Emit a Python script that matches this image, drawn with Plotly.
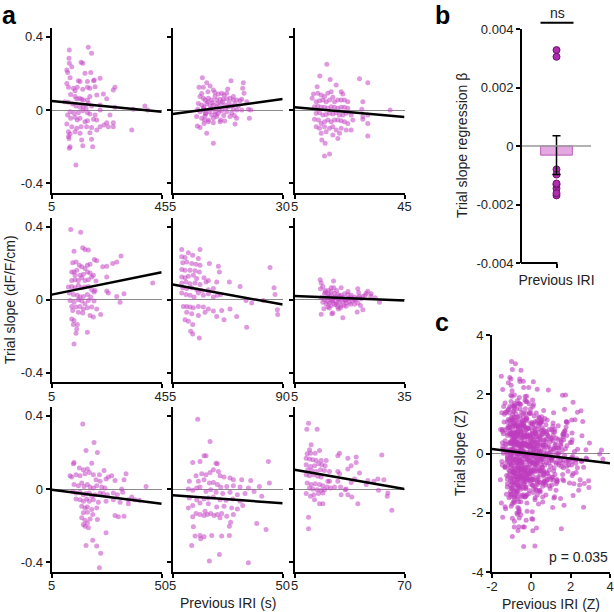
import numpy as np
import plotly.graph_objects as go

# ---------------- data ----------------
x_min = 5
x_max = [45, 30, 45, 45, 90, 35, 50, 50, 70]
# regression line values at x_min and x_max for each session
fit_start = [0.049, -0.022, 0.015, 0.028, 0.083, 0.020, -0.004, -0.034, 0.105]
fit_end = [-0.009, 0.060, -0.038, 0.150, -0.026, -0.004, -0.080, -0.078, 0.000]

iri_1 = [18.3,19.5,11.4,11.3,11.4,12.3,15.7,16.3,10.5,10.8,17.1,19.2,22.6,11.7,14.7,15.3,18.0,20.2,20.5,28.0,27.4,
         10.5,11.1,12.9,13.5,14.3,16.3,18.0,18.9,20.8,
         11.9,13.5,14.1,15.1,15.9,16.5,18.0,18.9,21.4,23.8,25.0,
         9.8,11.1,12.6,13.8,15.3,16.5,17.5,18.3,19.5,22.6,28.0,
         11.7,13.1,14.7,16.3,18.0,18.9,20.8,22.6,26.2,
         38.9,39.9,34.7,
         10.8,11.9,13.5,14.3,15.3,17.1,18.0,20.2,21.4,25.0,27.4,
         10.5,12.3,14.1,15.7,17.7,19.5,22.6,24.0,25.6,27.4,34.1,
         11.1,11.7,13.5,15.3,18.9,21.4,
         11.1,11.3,15.9,19.5,
         11.7,11.4,16.3,19.9,13.8]
slope_1 = [0.342,0.309,0.327,0.282,0.255,0.236,0.26,0.255,0.218,0.204,0.2,0.204,0.173,0.176,0.16,0.155,0.155,0.16,0.164,0.124,0.109,
           0.145,0.124,0.118,0.105,0.124,0.113,0.124,0.118,0.127,
           0.085,0.073,0.06,0.064,0.058,0.055,0.055,0.073,0.082,0.087,0.062,
           0.045,0.042,0.033,0.022,0.015,0.018,0.009,0.036,0.022,0.027,0.015,
           -0.009,-0.018,-0.015,-0.004,-0.015,-0.022,-0.027,0.0,-0.027,
           0.022,0.0,0.004,
           -0.027,-0.045,-0.04,-0.055,-0.045,-0.064,-0.058,-0.051,-0.055,-0.069,-0.069,
           -0.076,-0.091,-0.1,-0.091,-0.091,-0.095,-0.091,-0.082,-0.091,-0.091,-0.109,
           -0.118,-0.131,-0.118,-0.127,-0.124,-0.109,
           -0.145,-0.155,-0.164,-0.16,
           -0.2,-0.209,-0.195,-0.2,-0.3]

iri_2 = [11.74,12.73,18.26,21.06,10.98,11.97,13.49,14.24,15.38,16.14,16.67,17.27,18.79,20.91,21.21,
         11.21,11.97,12.35,13.11,13.86,14.62,15.0,15.76,16.52,17.27,18.03,18.79,19.55,20.3,20.68,
         10.83,11.59,12.12,12.73,13.49,14.24,15.0,15.91,16.89,17.65,18.41,19.17,19.92,21.82,22.73,
         10.68,11.21,11.97,12.58,13.33,13.86,14.62,15.38,16.14,17.27,18.41,19.55,20.68,22.2,
         10.45,11.59,12.35,13.11,14.24,15.0,15.91,18.03,19.55,22.42,
         10.61,11.21,12.12,13.11,14.24,15.76,19.17,
         12.73,14.24,
         13.0,14.0,15.2,16.3,17.8,12.0,13.7,15.6,17.0,18.8,14.8,16.6,12.4,19.0,11.6,13.0,14.6,17.5,12.2,16.8]
slope_2 = [0.176,0.149,0.16,0.149,0.124,0.124,0.131,0.109,0.087,0.091,0.082,0.091,0.073,0.118,0.091,
           0.073,0.064,0.055,0.064,0.055,0.073,0.055,0.058,0.058,0.062,0.064,0.055,0.055,0.051,0.058,
           0.036,0.027,0.018,0.036,0.022,0.027,0.018,0.036,0.027,0.018,0.022,0.033,0.022,0.045,0.0,
           0.004,-0.009,0.0,-0.018,-0.009,-0.027,-0.009,-0.018,-0.004,-0.009,-0.015,0.0,0.0,0.004,
           -0.036,-0.045,-0.033,-0.055,-0.045,-0.036,-0.055,-0.036,-0.045,-0.045,
           -0.087,-0.095,-0.073,-0.064,-0.069,-0.064,-0.076,
           -0.127,-0.182,
           0.045,0.04,0.035,0.045,0.04,0.01,0.005,0.0,0.01,0.005,-0.025,-0.03,-0.02,-0.03,0.09,0.1,0.095,0.115,-0.055,-0.06]

iri_3 = [16.76,14.21,17.97,28.63,31.66,13.24,20.15,11.91,11.42,13.48,14.7,15.91,17.12,18.33,21.97,22.57,12.88,14.09,15.3,16.51,17.73,18.94,19.54,20.76,21.97,23.18,24.39,29.85,
         12.27,13.48,14.7,15.91,17.12,18.33,19.54,20.76,21.97,23.18,24.39,29.48,39.78,
         12.88,14.09,15.3,16.51,17.73,18.94,20.15,21.36,22.57,23.79,25.6,29.85,31.66,
         12.27,13.73,14.7,15.91,17.12,18.33,19.54,20.76,21.97,23.18,24.39,26.21,29.85,
         12.88,14.09,15.91,17.73,18.94,20.15,21.97,23.79,25.6,31.66,
         14.7,16.51,18.94,20.76,21.36,31.66,
         14.94,16.15,17.73,15.91]
slope_3 = [0.249,0.185,0.167,0.171,0.149,0.127,0.136,0.087,0.064,0.091,0.082,0.073,0.091,0.1,0.1,0.087,0.045,0.051,0.055,0.045,0.055,0.069,0.045,0.055,0.055,0.055,0.045,0.045,
           0.018,0.022,0.015,0.015,0.009,0.018,0.015,0.009,0.015,0.015,0.009,0.004,0.0,
           -0.018,-0.015,-0.027,-0.024,-0.018,-0.022,-0.015,-0.027,-0.027,-0.018,-0.027,-0.036,-0.027,
           -0.051,-0.055,-0.073,-0.064,-0.055,-0.064,-0.055,-0.055,-0.058,-0.064,-0.073,-0.055,-0.051,
           -0.091,-0.1,-0.091,-0.1,-0.091,-0.109,-0.1,-0.109,-0.109,-0.073,
           -0.127,-0.118,-0.136,-0.155,-0.127,-0.142,
           -0.164,-0.182,-0.24,-0.251]

iri_4 = [11.91,15.55,13.12,16.27,17.12,18.33,12.64,13.85,15.06,13.12,14.09,15.91,17.12,17.97,18.94,20.52,21.36,23.55,25.0,27.18,30.21,28.64,
         12.27,13.48,15.3,16.51,17.97,18.94,20.15,12.27,13.48,14.7,15.91,17.12,18.33,19.54,21.12,25.0,41.72,31.3,29.85,
         11.06,12.27,13.48,14.7,15.91,17.12,18.33,19.54,20.76,25.0,25.6,11.42,12.88,14.33,15.3,16.51,17.97,19.18,20.39,28.64,
         11.67,13.12,14.7,15.91,17.12,18.33,20.39,12.27,13.85,15.3,16.51,17.97,19.54,21.36,12.64,14.7,16.27,18.94,22.82,20.15,
         12.27,13.12,12.88,14.33,14.09,13.85,13.12,17.97]
slope_4 = [0.385,0.369,0.266,0.284,0.275,0.272,0.202,0.207,0.189,0.152,0.161,0.18,0.171,0.189,0.194,0.22,0.213,0.18,0.183,0.198,0.239,0.207,
           0.152,0.134,0.134,0.139,0.152,0.147,0.134,0.106,0.11,0.106,0.121,0.106,0.11,0.125,0.103,0.125,0.092,0.033,-0.013,
           0.07,0.073,0.066,0.079,0.066,0.07,0.073,0.055,0.051,0.048,0.037,0.037,0.029,0.024,0.015,0.018,0.029,0.015,0.042,0.018,
           -0.004,-0.013,0.0,-0.007,-0.022,-0.004,-0.007,-0.037,-0.04,-0.037,-0.05,-0.044,-0.04,-0.05,-0.059,-0.068,-0.073,-0.086,-0.081,-0.095,
           -0.105,-0.114,-0.136,-0.136,-0.16,-0.183,-0.242,-0.178]

iri_5 = [11.96,26.12,17.11,20.46,11.96,14.53,24.84,12.73,15.82,19.68,23.03,26.12,33.34,40.29,11.96,14.53,18.4,22.26,25.61,41.06,
         11.96,14.53,17.11,20.97,23.55,29.21,32.56,11.96,15.3,18.4,22.26,26.12,30.76,39.0,48.79,57.04,12.73,15.82,19.68,23.55,27.41,32.56,36.43,
         11.96,15.3,18.4,21.49,24.84,28.7,32.56,36.43,39.52,42.09,13.24,15.82,18.4,20.97,24.84,28.7,32.56,36.43,42.87,49.31,
         15.82,19.68,24.84,29.99,39.0,44.67,54.46,61.67,66.05,75.07,80.22,83.31,84.08,85.89,86.14,
         14.53,17.11,20.46,18.91,20.46,25.61,62.19]
slope_5 = [0.275,0.275,0.257,0.244,0.235,0.231,0.226,0.202,0.207,0.198,0.194,0.189,0.198,0.183,0.165,0.161,0.161,0.158,0.152,0.152,
           0.125,0.121,0.128,0.134,0.116,0.121,0.106,0.092,0.097,0.088,0.092,0.084,0.097,0.097,0.097,0.073,0.066,0.061,0.066,0.055,0.051,0.055,0.061,
           0.037,0.029,0.024,0.015,0.037,0.024,0.033,0.015,0.024,0.029,-0.037,-0.037,-0.04,-0.044,-0.037,-0.04,-0.05,-0.062,-0.059,-0.05,
           -0.068,-0.077,-0.086,-0.068,-0.092,-0.11,-0.092,-0.004,-0.018,-0.004,0.176,0.066,0.029,-0.055,-0.081,
           -0.11,-0.117,-0.136,-0.172,-0.187,-0.209,-0.15]

iri_6 = [12.0,12.27,15.64,12.73,12.09,13.36,14.27,15.0,15.73,17.73,22.27,25.0,24.55,25.91,
         13.18,14.09,15.0,15.91,16.82,17.73,18.64,19.55,20.45,21.36,22.73,23.64,24.27,27.0,
         12.27,13.18,14.09,15.0,15.91,16.82,17.73,18.64,19.55,20.45,21.36,22.27,23.18,28.18,
         12.73,13.64,14.55,15.45,16.36,17.27,18.18,19.09,20.0,20.91,22.27,
         14.09,15.0,15.91,16.82,17.73,19.09,20.27,21.36,23.64,23.0,
         13.0,17.55,15.18,15.45,12.27,18.18,22.09,
         14.5,16.0,17.2,18.3,19.8,15.4,17.0,18.9,21.8,14.0,16.4,18.5,13.5,15.0,16.5,14.5,17.0,19.6,22.5,25.8]
slope_6 = [0.109,0.091,0.102,0.073,0.06,0.051,0.051,0.065,0.065,0.065,0.06,0.047,0.036,0.033,
           0.033,0.033,0.024,0.036,0.029,0.024,0.033,0.029,0.024,0.015,0.018,0.018,0.024,0.011,
           0.011,0.0,0.011,0.0,0.011,0.005,0.011,0.0,0.005,0.011,0.0,0.011,0.005,-0.013,
           -0.013,-0.022,-0.018,-0.007,-0.018,-0.013,-0.007,-0.018,-0.013,-0.007,-0.018,
           -0.04,-0.031,-0.025,-0.04,-0.031,-0.036,-0.025,-0.025,-0.055,-0.031,
           -0.049,-0.044,-0.076,-0.073,-0.08,-0.098,-0.067,
           0.02,0.015,0.02,0.012,0.008,-0.005,-0.002,-0.004,0.002,-0.01,-0.028,-0.03,0.04,0.045,0.05,-0.045,-0.05,0.045,0.038,0.02]

iri_7 = [17.69,22.32,19.05,23.69,14.14,13.87,16.32,21.37,19.59,17.96,12.5,13.18,14.96,16.59,18.64,20.41,22.05,24.51,26.41,27.23,28.19,29.55,30.92,35.42,34.6,24.78,23.14,
         14.14,15.91,17.28,18.23,19.59,20.69,22.05,23.41,25.46,26.82,33.64,43.6,
         13.59,14.96,16.59,17.96,19.05,20.41,21.37,22.73,24.78,26.14,27.78,30.23,31.87,34.05,36.37,37.74,39.1,40.87,
         14.96,16.59,17.96,19.32,20.41,22.05,24.1,27.23,30.23,32.96,36.37,
         17.28,18.64,19.59,21.37,23.41,17.96,19.59,21.78,30.92,32.28,34.6,
         17.28,18.64,19.59,20.69,23.69,17.96,18.64,20.0,27.23,21.78,25.05,24.51,19.05,23.41]
slope_7 = [0.355,0.253,0.21,0.199,0.145,0.138,0.114,0.141,0.109,0.105,0.072,0.065,0.078,0.072,0.083,0.09,0.078,0.078,0.101,0.054,0.065,0.072,0.047,0.083,0.051,0.042,0.051,
           0.024,0.018,0.033,0.014,0.024,0.011,0.005,0.018,0.011,0.005,0.0,0.014,
           -0.013,-0.022,-0.018,-0.031,-0.025,-0.022,-0.04,-0.031,-0.022,-0.025,-0.031,-0.022,-0.031,-0.018,-0.058,-0.043,-0.058,-0.062,
           -0.054,-0.058,-0.067,-0.054,-0.067,-0.058,-0.072,-0.067,-0.058,-0.072,-0.08,
           -0.094,-0.103,-0.098,-0.112,-0.103,-0.13,-0.127,-0.139,-0.145,-0.152,-0.148,
           -0.157,-0.17,-0.185,-0.163,-0.167,-0.194,-0.203,-0.212,-0.239,-0.279,-0.351,-0.429,-0.308,-0.311]

iri_8 = [15.23,20.28,17.82,18.64,22.73,23.28,13.18,16.18,44.15,21.64,23.69,16.87,18.64,20.28,14.55,24.37,26.0,28.46,29.82,33.23,36.92,44.56,11.82,15.5,17.82,20.0,21.64,23.28,24.64,27.1,29.82,32.55,35.96,40.46,
         11.41,13.18,14.82,16.18,18.64,20.55,22.73,25.46,28.46,31.46,34.6,38.28,41.42,11.82,14.82,17.82,19.59,21.64,24.37,26.82,29.55,32.55,11.41,13.18,16.18,19.59,23.0,26.0,29.14,31.46,33.64,
         14.55,16.18,17.82,19.19,20.55,21.91,23.28,25.05,27.1,29.82,18.23,13.18,24.37,28.73,13.46,16.18,16.46,14.14,17.82,12.77,20.96,25.05,28.19,28.19,39.37,43.19,20.0,24.1,35.96]
slope_8 = [0.38,0.259,0.181,0.181,0.141,0.138,0.145,0.15,0.15,0.105,0.096,0.083,0.078,0.09,0.072,0.072,0.065,0.06,0.051,0.051,0.047,0.033,0.042,0.042,0.051,0.033,0.036,0.024,0.011,0.014,0.018,0.011,0.005,0.014,
           0.0,-0.007,0.005,0.011,-0.013,-0.004,-0.018,-0.025,-0.018,-0.031,-0.025,-0.013,-0.04,-0.049,-0.058,-0.054,-0.049,-0.043,-0.058,-0.062,-0.054,-0.067,-0.103,-0.09,-0.076,-0.08,-0.098,-0.094,-0.103,-0.109,-0.09,
           -0.134,-0.139,-0.145,-0.139,-0.134,-0.145,-0.139,-0.134,-0.148,-0.139,-0.121,-0.152,-0.157,-0.181,-0.206,-0.253,-0.271,-0.257,-0.261,-0.308,-0.253,-0.257,-0.253,-0.203,-0.188,-0.221,-0.393,-0.357,-0.402]

iri_9 = [13.27,12.29,18.4,14.85,13.87,19.78,12.49,14.46,17.21,31.6,36.52,41.45,56.61,
         11.9,13.87,15.84,17.81,20.76,23.72,30.61,41.45,38.49,36.52,43.42,
         11.9,14.46,16.82,19.18,21.15,23.12,
         12.88,15.24,17.81,20.37,22.73,25.69,30.61,31.6,
         11.9,13.87,16.43,18.79,20.76,24.7,25.69,30.61,40.46,48.34,51.89,54.25,57.8,
         12.49,14.85,17.21,19.78,21.75,24.31,26.28,28.64,32.19,35.54,38.49,47.36,54.64,60.16,
         13.87,15.84,18.4,20.76,22.73,
         11.9,14.46,16.43,19.18,21.75,
         16.82,19.78,21.75,36.52,38.88,42.43,59.77,62.52,13.27,13.27,34.94,32.58]
slope_9 = [0.358,0.326,0.326,0.241,0.214,0.21,0.192,0.195,0.195,0.195,0.168,0.174,0.185,
           0.168,0.163,0.159,0.156,0.156,0.156,0.181,0.145,0.127,0.109,0.087,
           0.132,0.123,0.127,0.138,0.132,0.127,
           0.105,0.101,0.096,0.105,0.101,0.096,0.096,0.083,
           0.078,0.072,0.078,0.069,0.065,0.042,0.042,0.042,0.054,0.047,0.042,0.054,0.051,
           0.033,0.024,0.029,0.024,0.018,0.011,0.005,0.011,0.011,0.0,0.036,0.024,-0.007,-0.022,
           0.005,0.0,-0.004,-0.007,-0.004,
           -0.025,-0.04,-0.031,-0.025,-0.022,
           -0.058,-0.08,-0.08,-0.031,-0.043,-0.08,-0.04,-0.116,-0.154,-0.217,-0.004,-0.031]

iris = [iri_1, iri_2, iri_3, iri_4, iri_5, iri_6, iri_7, iri_8, iri_9]
slopes = [slope_1, slope_2, slope_3, slope_4, slope_5, slope_6, slope_7, slope_8, slope_9]

# panel c regression line (Z units)
c_fit_x = [-2, 4]
c_fit_y = [0.15, -0.33]
c_p_text = "p = 0.035"

# ---------------- styles ----------------
W, H = 614, 612
FONT = "Liberation Sans"
PT_COLOR = "rgba(196,70,196,0.55)"
PT_COLOR_C = "rgba(190,60,190,0.6)"
TXT = "#222222"


def fx(px):
    return px / W


def fy(py):
    return 1 - py / H


col_x = [(51.7, 161.7), (172.7, 282.7), (294.5, 404.5)]
row_y = [(27.5, 192.5), (217.5, 382.0), (406.5, 571.5)]

fig = go.Figure()
layout = dict(
    template="none",
    width=W, height=H, autosize=False, margin=dict(l=0, r=0, t=0, b=0, pad=0),
    paper_bgcolor="white", plot_bgcolor="white", showlegend=False,
    font=dict(family=FONT, size=13, color=TXT),
)

axis_common = dict(showline=True, linecolor="black", linewidth=2, ticks="outside",
                   ticklen=4, tickwidth=1.5, tickcolor="black", showgrid=False,
                   zeroline=False, automargin=False,
                   tickfont=dict(family=FONT, size=13, color=TXT))

for i in range(9):
    r, c = divmod(i, 3)
    n = i + 1
    xs = "" if n == 1 else str(n)
    xa = dict(axis_common)
    xa.update(domain=[fx(col_x[c][0]), fx(col_x[c][1])], range=[x_min, x_max[i]],
              tickvals=[x_min, x_max[i]], ticktext=[str(x_min), str(x_max[i])],
              anchor="y" + xs, ticklabelstandoff=-3)
    ya = dict(axis_common)
    ya.update(domain=[fy(row_y[r][1]), fy(row_y[r][0])], range=[-0.45, 0.45],
              tickvals=[-0.4, 0, 0.4], ticktext=["-0.4", "0", "0.4"],
              showticklabels=(c == 0), anchor="x" + xs,
              zeroline=True, zerolinecolor="#8a8a8a", zerolinewidth=1)
    layout["xaxis" + xs] = xa
    layout["yaxis" + xs] = ya
    fig.add_trace(go.Scatter(x=iris[i], y=slopes[i], mode="markers",
                             marker=dict(size=5, color=PT_COLOR, line=dict(width=0)),
                             xaxis="x" + xs, yaxis="y" + xs, cliponaxis=False))
    fig.add_trace(go.Scatter(x=[x_min, x_max[i]], y=[fit_start[i], fit_end[i]], mode="lines",
                             line=dict(color="black", width=2.5),
                             xaxis="x" + xs, yaxis="y" + xs))

# ---------------- panel b ----------------
betas = np.array([(fit_end[i] - fit_start[i]) / (x_max[i] - x_min) for i in range(9)])
beta_mean = betas.mean()
beta_sem = betas.std(ddof=1) / np.sqrt(len(betas))

xb = dict(axis_common)
xb.update(domain=[fx(522), fx(591)], range=[-0.5, 0.5], showline=False,
          tickvals=[0], ticktext=["Previous IRI"], anchor="y10",
          tickfont=dict(family=FONT, size=14, color=TXT))
yb = dict(axis_common)
yb.update(domain=[fy(263), fy(29)], range=[-0.004, 0.004],
          tickvals=[-0.004, -0.002, 0, 0.002, 0.004],
          ticktext=["-0.004", "-0.002", "0", "0.002", "0.004"], anchor="x10")
layout["xaxis10"] = xb
layout["yaxis10"] = yb

fig.add_trace(go.Bar(x=[0], y=[beta_mean], width=0.46,
                     marker=dict(color="rgb(228,168,224)", line=dict(color="rgb(185,95,185)", width=1)),
                     xaxis="x10", yaxis="y10"))
fig.add_trace(go.Scatter(x=[0] * len(betas), y=betas, mode="markers",
                         marker=dict(size=7, color="rgb(175,45,175)", line=dict(color="rgb(110,20,110)", width=1)),
                         xaxis="x10", yaxis="y10", cliponaxis=False))
fig.add_trace(go.Scatter(x=[0], y=[beta_mean], mode="markers", marker=dict(size=1, opacity=0),
                         error_y=dict(type="data", array=[beta_sem], color="black", thickness=1.5, width=4),
                         xaxis="x10", yaxis="y10"))

# ---------------- panel c ----------------
zx_all, zy_all = [], []
for i in range(9):
    xv = np.array(iris[i]); yv = np.array(slopes[i])
    zx_all.extend(((xv - xv.mean()) / xv.std()).tolist())
    zy_all.extend(((yv - yv.mean()) / yv.std()).tolist())

xc = dict(axis_common)
xc.update(domain=[fx(492), fx(610)], range=[-2, 4], tickvals=[-2, 0, 2, 4],
          ticktext=["-2", "0", "2", "4"], anchor="y11", ticklabelstandoff=-3)
yc = dict(axis_common)
yc.update(domain=[fy(572), fy(335)], range=[-4, 4], tickvals=[-4, -2, 0, 2, 4],
          ticktext=["-4", "-2", "0", "2", "4"], anchor="x11",
          zeroline=True, zerolinecolor="#8a8a8a", zerolinewidth=1)
layout["xaxis11"] = xc
layout["yaxis11"] = yc

fig.add_trace(go.Scatter(x=zx_all, y=zy_all, mode="markers",
                         marker=dict(size=5, color=PT_COLOR_C, line=dict(width=0)),
                         xaxis="x11", yaxis="y11"))
fig.add_trace(go.Scatter(x=c_fit_x, y=c_fit_y, mode="lines", line=dict(color="black", width=2.5),
                         xaxis="x11", yaxis="y11"))

# ---------------- shapes & annotations ----------------
shapes = [
    dict(type="line", xref="paper", yref="paper", x0=fx(522), x1=fx(591), y0=fy(145.9), y1=fy(145.9),
         line=dict(color="#999999", width=1.5), layer="above"),
    dict(type="line", xref="paper", yref="paper", x0=fx(521), x1=fx(557.5), y0=fy(263), y1=fy(263),
         line=dict(color="black", width=2)),
    dict(type="line", xref="paper", yref="paper", x0=fx(540.5), x1=fx(573.5), y0=fy(22.7), y1=fy(22.7),
         line=dict(color="black", width=2)),
]


def ann(text, x, y, size=14, angle=0, xanchor="center", bold=False):
    return dict(text=("<b>%s</b>" % text) if bold else text, x=fx(x), y=fy(y), xref="paper", yref="paper",
                showarrow=False, textangle=angle, xanchor=xanchor, yanchor="middle",
                font=dict(family=FONT, size=size, color=("black" if bold else TXT)))


annotations = [
    ann("a", 0, 15, size=25, xanchor="left", bold=True),
    ann("b", 433, 15, size=25, xanchor="left", bold=True),
    ann("c", 433, 322, size=25, xanchor="left", bold=True),
    ann("Trial slope (dF/F/cm)", 10, 300, angle=-90),
    ann("Previous IRI (s)", 228, 603),
    ann("Trial slope regression β", 462, 146, angle=-90),
    ann("ns", 557, 13, size=14),
    ann("Trial slope (Z)", 460, 453, angle=-90),
    ann("Previous IRI (Z)", 551, 603.5),
    ann(c_p_text, 578, 557, size=14),
]
layout["shapes"] = shapes
layout["annotations"] = annotations
fig.update_layout(**layout)

post = ("document.body.style.margin='0';document.body.style.overflow='hidden';"
        "var gd=document.getElementById('{plot_id}');"
        "gd.style.position='fixed';gd.style.left='0px';gd.style.top='0px';")
fig.write_html("out.html", config={"responsive": False, "displayModeBar": False}, post_script=post)
